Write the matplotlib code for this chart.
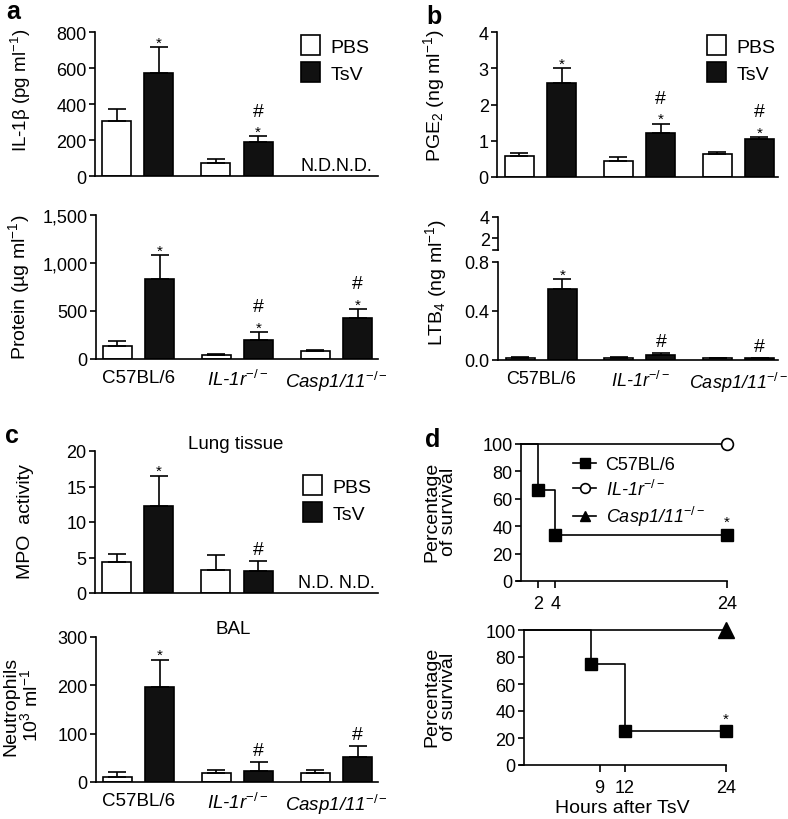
import matplotlib
matplotlib.use('Agg')
import matplotlib.pyplot as plt
from matplotlib.patches import Patch
from matplotlib.lines import Line2D

plt.rcParams['font.family'] = ['Liberation Sans', 'DejaVu Sans']
plt.rcParams['mathtext.fontset'] = 'custom'
plt.rcParams['mathtext.rm'] = 'Liberation Sans'
plt.rcParams['mathtext.it'] = 'Liberation Sans:italic'
plt.rcParams['mathtext.bf'] = 'Liberation Sans:bold'

# ---------------- data ----------------
strains = ['C57BL/6', r'IL-1r$^{-/-}$', r'Casp1/11$^{-/-}$']
legend_groups = ['PBS', 'TsV']

# a (top) IL-1beta, pg/ml  (Casp1/11 not determined)
il1b_pbs = [305, 75, None]
il1b_pbs_err = [70, 17, None]
il1b_tsv = [575, 190, None]
il1b_tsv_err = [140, 30, None]
il1b_marks = ['*', '*#', None]

# a (bottom) protein, ug/ml
prot_pbs = [140, 40, 80]
prot_pbs_err = [45, 15, 10]
prot_tsv = [830, 200, 430]
prot_tsv_err = [250, 80, 90]
prot_marks = ['*', '*#', '*#']

# b (top) PGE2, ng/ml
pge2_pbs = [0.58, 0.45, 0.63]
pge2_pbs_err = [0.08, 0.10, 0.07]
pge2_tsv = [2.60, 1.22, 1.05]
pge2_tsv_err = [0.40, 0.25, 0.05]
pge2_marks = ['*', '*#', '*#']

# b (bottom) LTB4, ng/ml
ltb4_pbs = [0.020, 0.020, 0.015]
ltb4_pbs_err = [0.003, 0.003, 0.003]
ltb4_tsv = [0.58, 0.040, 0.015]
ltb4_tsv_err = [0.08, 0.020, 0.005]
ltb4_marks = ['*', '#', '#']

# c (top) MPO activity, lung tissue (Casp1/11 not determined)
mpo_pbs = [4.3, 3.3, None]
mpo_pbs_err = [1.2, 2.1, None]
mpo_tsv = [12.3, 3.1, None]
mpo_tsv_err = [4.2, 1.4, None]
mpo_marks = ['*', '#', None]

# c (bottom) BAL neutrophils, 10^3/ml
neut_pbs = [10, 18, 18]
neut_pbs_err = [10, 7, 7]
neut_tsv = [197, 23, 52]
neut_tsv_err = [56, 19, 22]
neut_marks = ['*', '#', '#']

# d survival
surv_labels = ['C57BL/6', r'IL-1r$^{-/-}$', r'Casp1/11$^{-/-}$']
d1_c57_t = [0, 2, 4, 24]
d1_c57_s = [100, 66.7, 33.3, 33.3]
d1_il1r_t = [0, 24]
d1_il1r_s = [100, 100]
d1_xticks = [2, 4, 24]
d2_c57_t = [0, 8, 12, 24]
d2_c57_s = [100, 75, 25, 25]
d2_casp_t = [0, 24]
d2_casp_s = [100, 100]
d2_xticks = [9, 12, 24]
surv_yticks = [0, 20, 40, 60, 80, 100]

# ---------------- layout helpers ----------------
W, H = 788, 820
fig = plt.figure(figsize=(W / 100, H / 100), dpi=100)

def box(x0, y0, x1, y1):
    return [x0 / W, 1 - y1 / H, (x1 - x0) / W, (y1 - y0) / H]

def fx(x):
    return x / W

def fy(y):
    return 1 - y / H

FS = 13
LW = 1.2
OFF = 0.213
BW = 0.294

def style_axes(ax):
    for s in ['top', 'right']:
        ax.spines[s].set_visible(False)
    for s in ['left', 'bottom']:
        ax.spines[s].set_linewidth(LW)
    ax.tick_params(axis='y', direction='out', length=4, width=LW, labelsize=FS, pad=2)

def bar_panel(rect, ylim, yticks, yticklabels, pbs, pbs_e, tsv, tsv_e, marks,
              xlim, show_x=False, nd_text=None, star_off=0.5, xfs=FS + 0.5):
    ax = fig.add_axes(rect)
    style_axes(ax)
    for i in range(3):
        if pbs[i] is None:
            if nd_text:
                ax.text(i, ylim[1] * 0.012, nd_text, ha='center', va='bottom', fontsize=FS)
            continue
        ax.bar(i - OFF, pbs[i], BW, color='white', edgecolor='black', linewidth=LW, zorder=2)
        ax.bar(i + OFF, tsv[i], BW, color='#111111', edgecolor='black', linewidth=LW, zorder=2)
        ax.errorbar([i - OFF, i + OFF], [pbs[i], tsv[i]], yerr=[[0, 0], [pbs_e[i], tsv_e[i]]],
                    fmt='none', ecolor='black', elinewidth=LW, capsize=6.5, capthick=LW, zorder=3)
        m = marks[i]
        top = tsv[i] + tsv_e[i]
        if m:
            if '*' in m:
                ax.annotate('*', xy=(i + OFF, top), xytext=(0, star_off), textcoords='offset points',
                            ha='center', va='baseline', fontsize=11)
                if '#' in m:
                    ax.annotate('#', xy=(i + OFF, top), xytext=(0, 15), textcoords='offset points',
                                ha='center', va='baseline', fontsize=14)
            elif '#' in m:
                ax.annotate('#', xy=(i + OFF, top), xytext=(0, 5), textcoords='offset points',
                            ha='center', va='baseline', fontsize=14)
    ax.set_ylim(*ylim)
    ax.set_xlim(*xlim)
    ax.set_yticks(yticks)
    ax.set_yticklabels(yticklabels)
    if show_x:
        ax.set_xticks(range(3))
        ax.set_xticklabels(strains)
        ax.tick_params(axis='x', length=0, labelsize=xfs, pad=7)
        for k, t in enumerate(ax.get_xticklabels()):
            if k > 0:
                t.set_fontstyle('italic')
    else:
        ax.set_xticks([])
    return ax

def bar_legend(ax, x, y):
    handles = [Patch(facecolor='white', edgecolor='black', linewidth=LW),
               Patch(facecolor='#111111', edgecolor='black', linewidth=LW)]
    ax.legend(handles, legend_groups, loc='upper left', bbox_to_anchor=(fx(x), fy(y)),
              bbox_transform=fig.transFigure, frameon=False, fontsize=FS + 1,
              handlelength=1.0, handleheight=1.2, handletextpad=0.5, labelspacing=0.35,
              borderpad=0, borderaxespad=0)

xl_a = (-0.43, 2.42)
xl_b = (-0.44, 2.40)

# ---------------- panel a ----------------
a1 = bar_panel(box(95, 33, 378, 177), (0, 800), [0, 200, 400, 600, 800],
               ['0', '200', '400', '600', '800'],
               il1b_pbs, il1b_pbs_err, il1b_tsv, il1b_tsv_err, il1b_marks, xl_a,
               nd_text='N.D.N.D.')
bar_legend(a1, 301, 36)
a2 = bar_panel(box(96, 216, 378, 360), (0, 1500), [0, 500, 1000, 1500],
               ['0', '500', '1,000', '1,500'],
               prot_pbs, prot_pbs_err, prot_tsv, prot_tsv_err, prot_marks, xl_a, show_x=True)

# ---------------- panel b ----------------
b1 = bar_panel(box(497, 33, 778, 178), (0, 4), [0, 1, 2, 3, 4], ['0', '1', '2', '3', '4'],
               pge2_pbs, pge2_pbs_err, pge2_tsv, pge2_tsv_err, pge2_marks, xl_b)
bar_legend(b1, 707, 36)
b2 = bar_panel(box(498, 263, 778, 361), (0, 0.8), [0, 0.4, 0.8], ['0.0', '0.4', '0.8'],
               ltb4_pbs, ltb4_pbs_err, ltb4_tsv, ltb4_tsv_err, ltb4_marks, xl_b, show_x=True,
               xfs=FS)
b2u = fig.add_axes(box(498, 218, 778, 251))
b2u.set_ylim(0.86, 4.0)
b2u.set_xlim(*xl_b)
for s in ['top', 'right', 'bottom']:
    b2u.spines[s].set_visible(False)
b2u.spines['left'].set_linewidth(LW)
b2u.set_xticks([])
b2u.set_yticks([2, 4])
b2u.set_yticklabels(['2', '4'])
b2u.tick_params(axis='y', direction='out', length=4, width=LW, labelsize=FS, pad=2)
b2u.patch.set_visible(False)
b2u.plot([-0.018, 0.0], [0, 0], transform=b2u.transAxes, color='black', lw=LW, clip_on=False)

# ---------------- panel c ----------------
c1 = bar_panel(box(95, 452, 378, 594), (0, 20), [0, 5, 10, 15, 20],
               ['0', '5', '10', '15', '20'],
               mpo_pbs, mpo_pbs_err, mpo_tsv, mpo_tsv_err, mpo_marks, xl_a,
               nd_text='N.D. N.D.')
bar_legend(c1, 303, 476)
c2 = bar_panel(box(96, 638, 378, 783), (0, 300), [0, 100, 200, 300],
               ['0', '100', '200', '300'],
               neut_pbs, neut_pbs_err, neut_tsv, neut_tsv_err, neut_marks, xl_a, show_x=True)
fig.text(fx(236), fy(445), 'Lung tissue', ha='center', va='center', fontsize=FS + 0.5)
fig.text(fx(233), fy(630), 'BAL', ha='center', va='center', fontsize=FS + 0.5)

# ---------------- panel d ----------------
def surv_axes(rect, xticks):
    ax = fig.add_axes(rect)
    style_axes(ax)
    ax.spines['left'].set_position(('data', 0))
    ax.set_xlim(-0.45, 24)
    ax.set_ylim(0, 100)
    ax.set_yticks(surv_yticks)
    ax.set_xticks(xticks)
    ax.tick_params(axis='x', direction='out', length=5, width=LW, labelsize=FS, pad=5)
    return ax

MS = 8.5
d1 = surv_axes(box(517, 445, 727, 582), d1_xticks)
d1.plot(d1_c57_t, d1_c57_s, drawstyle='steps-post', color='black', lw=LW,
        marker='s', ms=MS, markevery=[1, 2, 3], clip_on=False, zorder=3)
d1.plot(d1_il1r_t, d1_il1r_s, color='black', lw=LW, marker='o', ms=MS,
        mfc='white', mec='black', mew=LW, markevery=[1], clip_on=False, zorder=3)
d1.annotate('*', xy=(d1_c57_t[-1], d1_c57_s[-1]), xytext=(0, 7), textcoords='offset points',
            ha='center', va='baseline', fontsize=11)
lh = [Line2D([], [], color='black', lw=LW, marker='s', ms=7),
      Line2D([], [], color='black', lw=LW, marker='o', ms=7, mfc='white', mew=LW),
      Line2D([], [], color='black', lw=LW, marker='^', ms=7)]
leg = d1.legend(lh, surv_labels, loc='upper left', bbox_to_anchor=(fx(573), fy(457)),
                bbox_transform=fig.transFigure, frameon=False, fontsize=FS,
                handlelength=1.3, handletextpad=0.5, labelspacing=0.3, borderpad=0, borderaxespad=0)
for k, t in enumerate(leg.get_texts()):
    if k > 0:
        t.set_fontstyle('italic')

d2 = surv_axes(box(520, 631, 726, 766), d2_xticks)
d2.plot(d2_c57_t, d2_c57_s, drawstyle='steps-post', color='black', lw=LW,
        marker='s', ms=MS, markevery=[1, 2, 3], clip_on=False, zorder=3)
d2.plot(d2_casp_t, d2_casp_s, color='black', lw=LW, marker='^', ms=12,
        markevery=[1], clip_on=False, zorder=3)
d2.annotate('*', xy=(d2_c57_t[-1], d2_c57_s[-1]), xytext=(0, 6), textcoords='offset points',
            ha='center', va='baseline', fontsize=11)
fig.text(fx(622), fy(809), 'Hours after TsV', ha='center', va='center', fontsize=FS + 1)

# ---------------- axis labels ----------------
def ylab(x, y, s, fs=FS + 1):
    fig.text(fx(x), fy(y), s, rotation=90, ha='center', va='center', fontsize=fs,
             linespacing=1.0)

ylab(21, 90, r'IL-1β (pg ml$^{-1}$)', fs=FS + 0.5)
ylab(19, 287, r'Protein (µg ml$^{-1}$)')
ylab(434, 96, r'PGE$_2$ (ng ml$^{-1}$)')
ylab(436, 282, r'LTB$_4$ (ng ml$^{-1}$)')
ylab(26, 522, 'MPO  activity')
ylab(22, 706, 'Neutrophils\n10$^3$ ml$^{-1}$')
ylab(440, 512, 'Percentage\nof survival')
ylab(440, 697, 'Percentage\nof survival')

# ---------------- panel letters ----------------
for x, y, s in [(13, 12, 'a'), (434, 17, 'b'), (12, 436, 'c'), (433, 440, 'd')]:
    fig.text(fx(x), fy(y), s, ha='center', va='center', fontsize=18, fontweight='bold')

fig.savefig('out.png', dpi=100)
